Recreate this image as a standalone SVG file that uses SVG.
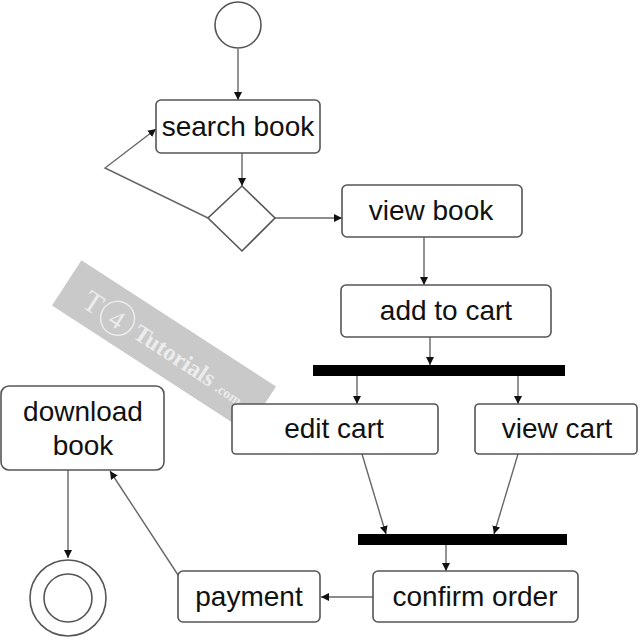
<svg xmlns="http://www.w3.org/2000/svg" width="640" height="640" viewBox="0 0 640 640">
<style>
.n{fill:#fff;stroke:#555;stroke-width:1.6}
.t{font-family:"Liberation Sans",Arial,sans-serif;font-size:28px;fill:#111;text-anchor:middle}
.c{fill:none;stroke:#666;stroke-width:1.4;marker-end:url(#a)}
.bar{fill:#000}
</style>
<defs>
<marker id="a" viewBox="0 0 10 10" refX="10" refY="5" markerWidth="8" markerHeight="8" markerUnits="userSpaceOnUse" orient="auto">
<path d="M0,0L10,5L0,10z" fill="#111"/>
</marker>
</defs>
<rect width="640" height="640" fill="#fff"/>
<g id="watermark" transform="translate(164,346) rotate(33)">
<rect x="-116" y="-27" width="232" height="54" fill="#c9c9c9"/>
<text x="-92" y="12" font-family="Liberation Serif,serif" font-size="30" fill="#ececec">T</text>
<circle cx="-54" cy="2" r="17" fill="none" stroke="#ececec" stroke-width="1.5"/>
<text x="-54" y="12" font-family="Liberation Serif,serif" font-size="26" fill="#ececec" text-anchor="middle">4</text>
<text x="-32" y="10" font-family="Liberation Serif,serif" font-size="24" font-weight="bold" fill="#ececec">Tutorials</text>
<text x="66" y="10" font-family="Liberation Serif,serif" font-size="14" font-weight="bold" fill="#ececec">.com</text>
</g>
<g id="connectors">
<line class="c" x1="238" y1="49" x2="238" y2="100"/>
<line class="c" x1="242" y1="153" x2="242" y2="186"/>
<polyline class="c" points="208,218 105,168 156,129"/>
<line class="c" x1="275" y1="218" x2="342" y2="218"/>
<line class="c" x1="424" y1="237" x2="424" y2="285"/>
<line class="c" x1="430" y1="337" x2="430" y2="365"/>
<line class="c" x1="357" y1="376" x2="357" y2="404"/>
<line class="c" x1="518" y1="376" x2="518" y2="404"/>
<line class="c" x1="362" y1="454" x2="386" y2="534"/>
<line class="c" x1="518" y1="454" x2="494" y2="534"/>
<line class="c" x1="446" y1="545" x2="446" y2="571"/>
<line class="c" x1="373" y1="597" x2="321" y2="597"/>
<line class="c" x1="180" y1="578" x2="110" y2="471"/>
<line class="c" x1="68" y1="470" x2="68" y2="558"/>
</g>
<g id="start"><circle class="n" cx="238" cy="25" r="23"/></g>
<g id="search-book"><rect class="n" x="156" y="100" width="164" height="53" rx="5"/><text class="t" x="238" y="136">search book</text></g>
<g id="decision"><polygon class="n" points="242,186 275,218 242,251 208,218"/></g>
<g id="view-book"><rect class="n" x="342" y="185" width="180" height="52" rx="5"/><text class="t" x="431" y="220">view book</text></g>
<g id="add-to-cart"><rect class="n" x="341" y="285" width="210" height="52" rx="5"/><text class="t" x="446" y="320">add to cart</text></g>
<g id="fork"><rect class="bar" x="313" y="365" width="252" height="11"/></g>
<g id="edit-cart"><rect class="n" x="232" y="404" width="206" height="50" rx="4"/><text class="t" x="334" y="438">edit cart</text></g>
<g id="view-cart"><rect class="n" x="475" y="404" width="162" height="50" rx="4"/><text class="t" x="557" y="438">view cart</text></g>
<g id="join"><rect class="bar" x="358" y="534" width="209" height="11"/></g>
<g id="confirm-order"><rect class="n" x="373" y="571" width="205" height="51" rx="5"/><text class="t" x="475" y="606">confirm order</text></g>
<g id="payment"><rect class="n" x="178" y="571" width="142" height="51" rx="5"/><text class="t" x="249" y="606">payment</text></g>
<g id="download-book"><rect class="n" x="1" y="386" width="163" height="84" rx="8"/><text class="t" x="83" y="421">download</text><text class="t" x="83" y="455">book</text></g>
<g id="end"><circle class="n" cx="68" cy="598" r="38"/><circle class="n" cx="68" cy="598" r="24"/></g>
</svg>
